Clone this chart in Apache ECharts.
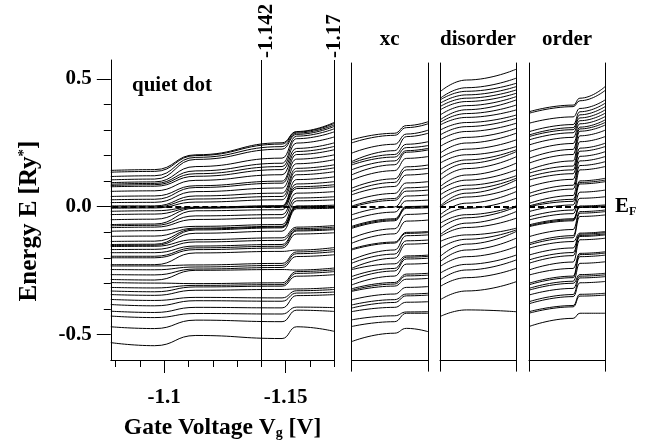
<!DOCTYPE html>
<html>
<head>
<meta charset="utf-8">
<script src="https://cdn.jsdelivr.net/npm/echarts@6/dist/echarts.min.js"></script>
<style>
  html, body { margin: 0; padding: 0; background: #fff; }
  #chart { width: 657px; height: 445px; }
</style>
</head>
<body>
<div id="chart"></div>
<script>
// ---- Kohn-Sham levels of the quiet dot vs gate voltage -------------------
// Each column holds the energy (Ry*) of every level at one gate-voltage knot.
const vgKnots = [-1.078, -1.096, -1.113, -1.1485, -1.1545, -1.17];
const mainE0 = [0.142, 0.135, 0.118, 0.105, 0.094, 0.088, 0.083, 0.078, 0.060, 0.040, 0.027, 0.016, 0.003, -0.002, -0.006, -0.018, -0.031, -0.051, -0.070, -0.075, -0.082, -0.096, -0.116, -0.136, -0.148, -0.152, -0.156, -0.168, -0.180, -0.194, -0.200, -0.227, -0.232, -0.246, -0.266, -0.285, -0.297, -0.316, -0.330, -0.344, -0.363, -0.383, -0.409, -0.428, -0.470, -0.532];
const mainE1 = [0.145, 0.138, 0.121, 0.108, 0.097, 0.091, 0.086, 0.080, 0.062, 0.042, 0.029, 0.017, 0.003, -0.001, -0.005, -0.016, -0.029, -0.049, -0.068, -0.073, -0.080, -0.094, -0.115, -0.135, -0.147, -0.151, -0.155, -0.167, -0.180, -0.194, -0.200, -0.227, -0.232, -0.247, -0.267, -0.287, -0.299, -0.318, -0.333, -0.347, -0.367, -0.388, -0.414, -0.434, -0.477, -0.544];
const mainE2 = [0.203, 0.200, 0.193, 0.185, 0.157, 0.140, 0.129, 0.119, 0.103, 0.082, 0.075, 0.059, 0.042, 0.030, 0.018, -0.002, -0.004, -0.006, -0.016, -0.036, -0.050, -0.077, -0.084, -0.087, -0.091, -0.104, -0.129, -0.138, -0.154, -0.161, -0.168, -0.181, -0.228, -0.236, -0.244, -0.249, -0.301, -0.308, -0.314, -0.327, -0.355, -0.368, -0.394, -0.418, -0.444, -0.504];
const mainE3 = [0.250, 0.245, 0.235, 0.225, 0.190, 0.170, 0.157, 0.145, 0.125, 0.100, 0.092, 0.073, 0.053, 0.040, 0.027, 0.004, 0.001, -0.002, -0.012, -0.031, -0.044, -0.070, -0.077, -0.080, -0.083, -0.096, -0.122, -0.132, -0.148, -0.155, -0.162, -0.175, -0.222, -0.230, -0.238, -0.246, -0.298, -0.305, -0.311, -0.324, -0.357, -0.370, -0.396, -0.420, -0.450, -0.516];
const mainE4 = [0.294, 0.292, 0.288, 0.283, 0.276, 0.266, 0.249, 0.228, 0.216, 0.204, 0.186, 0.168, 0.150, 0.139, 0.125, 0.106, 0.089, 0.078, 0.071, 0.053, 0.034, 0.023, 0.003, 0.000, -0.004, -0.008, -0.080, -0.086, -0.091, -0.095, -0.107, -0.170, -0.177, -0.184, -0.195, -0.248, -0.254, -0.261, -0.272, -0.322, -0.329, -0.338, -0.348, -0.393, -0.405, -0.470];
const mainE5 = [0.330, 0.326, 0.320, 0.314, 0.305, 0.293, 0.273, 0.250, 0.236, 0.223, 0.203, 0.184, 0.164, 0.152, 0.137, 0.117, 0.098, 0.086, 0.078, 0.059, 0.039, 0.027, 0.006, 0.002, -0.002, -0.006, -0.074, -0.080, -0.086, -0.090, -0.102, -0.160, -0.168, -0.176, -0.188, -0.240, -0.247, -0.254, -0.266, -0.316, -0.324, -0.334, -0.344, -0.395, -0.410, -0.488];

// ---- "xc" panel (sweep position 0..1) ------------------------------------
const xcKnots = [0, 0.56, 0.72, 1];
const xcE0 = [0.262, 0.250, 0.210, 0.177, 0.171, 0.164, 0.145, 0.125, 0.105, 0.073, 0.060, 0.047, 0.021, 0.003, -0.001, -0.031, -0.051, -0.076, -0.080, -0.084, -0.122, -0.142, -0.164, -0.168, -0.207, -0.220, -0.240, -0.245, -0.272, -0.285, -0.305, -0.320, -0.326, -0.330, -0.363, -0.383, -0.395, -0.409, -0.441, -0.467, -0.526];
const xcE1 = [0.288, 0.280, 0.245, 0.220, 0.205, 0.195, 0.180, 0.165, 0.142, 0.110, 0.096, 0.080, 0.053, 0.033, 0.026, 0.000, -0.020, -0.046, -0.050, -0.054, -0.085, -0.105, -0.137, -0.141, -0.168, -0.184, -0.200, -0.222, -0.240, -0.250, -0.270, -0.295, -0.301, -0.309, -0.340, -0.362, -0.373, -0.392, -0.425, -0.448, -0.493];
const xcE2 = [0.318, 0.310, 0.285, 0.275, 0.245, 0.232, 0.220, 0.214, 0.190, 0.157, 0.145, 0.125, 0.094, 0.075, 0.062, 0.043, 0.024, 0.002, -0.001, -0.005, -0.029, -0.055, -0.099, -0.103, -0.112, -0.132, -0.145, -0.191, -0.196, -0.203, -0.223, -0.262, -0.269, -0.282, -0.314, -0.340, -0.347, -0.372, -0.410, -0.415, -0.474];
const xcE3 = [0.333, 0.325, 0.300, 0.288, 0.255, 0.240, 0.229, 0.223, 0.197, 0.164, 0.151, 0.131, 0.099, 0.079, 0.066, 0.047, 0.027, 0.004, 0.001, -0.003, -0.025, -0.051, -0.096, -0.100, -0.109, -0.129, -0.142, -0.188, -0.193, -0.200, -0.220, -0.259, -0.266, -0.279, -0.311, -0.337, -0.344, -0.370, -0.409, -0.415, -0.487];

// ---- "disorder" panel ------------------------------------------------------
const disKnots = [0, 0.35, 1];
const disE0 = [0.450, 0.424, 0.418, 0.405, 0.392, 0.379, 0.359, 0.340, 0.330, 0.320, 0.300, 0.281, 0.262, 0.236, 0.210, 0.191, 0.171, 0.145, 0.125, 0.105, 0.079, 0.066, 0.047, 0.027, 0.003, -0.001, -0.031, -0.044, -0.064, -0.083, -0.109, -0.116, -0.135, -0.161, -0.194, -0.214, -0.233, -0.259, -0.285, -0.311, -0.363, -0.428];
const disE1 = [0.496, 0.466, 0.452, 0.438, 0.425, 0.412, 0.396, 0.380, 0.365, 0.350, 0.330, 0.314, 0.295, 0.272, 0.250, 0.226, 0.204, 0.184, 0.170, 0.150, 0.125, 0.105, 0.085, 0.070, 0.054, 0.039, 0.015, -0.005, -0.030, -0.042, -0.063, -0.080, -0.109, -0.126, -0.145, -0.168, -0.194, -0.224, -0.246, -0.276, -0.328, -0.402];
const disE2 = [0.538, 0.503, 0.483, 0.470, 0.457, 0.444, 0.431, 0.418, 0.398, 0.379, 0.359, 0.346, 0.327, 0.307, 0.288, 0.262, 0.236, 0.223, 0.216, 0.196, 0.171, 0.145, 0.122, 0.112, 0.105, 0.079, 0.060, 0.034, 0.004, 0.000, -0.018, -0.044, -0.083, -0.090, -0.096, -0.122, -0.155, -0.188, -0.207, -0.240, -0.292, -0.409];

// ---- "order" panel ---------------------------------------------------------
const ordKnots = [0, 0.58, 0.67, 1];
const ordE0 = [0.372, 0.366, 0.327, 0.294, 0.281, 0.275, 0.262, 0.242, 0.216, 0.190, 0.171, 0.145, 0.132, 0.118, 0.105, 0.079, 0.053, 0.040, 0.014, 0.004, 0.001, -0.018, -0.038, -0.051, -0.070, -0.074, -0.077, -0.116, -0.142, -0.148, -0.161, -0.188, -0.207, -0.220, -0.246, -0.266, -0.298, -0.304, -0.318, -0.325, -0.344, -0.370, -0.378, -0.409, -0.415, -0.467];
const ordE1 = [0.398, 0.392, 0.352, 0.322, 0.310, 0.302, 0.290, 0.272, 0.248, 0.225, 0.205, 0.180, 0.160, 0.145, 0.130, 0.108, 0.085, 0.070, 0.045, 0.030, 0.022, 0.008, -0.012, -0.026, -0.046, -0.050, -0.054, -0.088, -0.112, -0.120, -0.135, -0.160, -0.178, -0.190, -0.215, -0.240, -0.270, -0.276, -0.290, -0.298, -0.318, -0.342, -0.350, -0.385, -0.390, -0.435];
const ordE2 = [0.425, 0.415, 0.385, 0.372, 0.360, 0.348, 0.337, 0.325, 0.312, 0.305, 0.296, 0.278, 0.255, 0.230, 0.218, 0.198, 0.180, 0.162, 0.145, 0.102, 0.096, 0.090, 0.058, 0.034, 0.004, 0.001, -0.002, -0.018, -0.024, -0.037, -0.102, -0.106, -0.111, -0.115, -0.128, -0.181, -0.186, -0.194, -0.220, -0.264, -0.270, -0.277, -0.296, -0.341, -0.348, -0.415];
const ordE3 = [0.470, 0.455, 0.418, 0.405, 0.392, 0.379, 0.366, 0.353, 0.340, 0.330, 0.320, 0.300, 0.275, 0.249, 0.236, 0.216, 0.197, 0.177, 0.158, 0.112, 0.105, 0.099, 0.066, 0.040, 0.008, 0.004, 0.001, -0.012, -0.018, -0.031, -0.096, -0.100, -0.105, -0.109, -0.122, -0.175, -0.180, -0.188, -0.214, -0.259, -0.265, -0.272, -0.291, -0.337, -0.344, -0.415];

// ---- axes, ticks and annotations --------------------------------------------
const vgMajorTicks = [-1.1, -1.15];
const vgMinorTicks = [-1.08, -1.09, -1.11, -1.12, -1.13, -1.14, -1.16, -1.17];
const energyMajorTicks = [0.5, 0, -0.5];
const energyMinorTicks = [0.4, 0.3, 0.2, 0.1, -0.1, -0.2, -0.3, -0.4];
const markedVoltages = [-1.142, -1.17];
const fermiEnergy = 0;
const panelTitles = ['xc', 'disorder', 'order'];

const SERIF = "'Liberation Serif', 'DejaVu Serif', serif";
const INK = '#000';
const yMin = -0.6, yMaxMain = 0.574, yMaxSide = 0.5625;

const grids = [
  { left: 110.8, top: 60, width: 223.5, height: 300.6 },
  { left: 351.5, top: 63, width: 76.5, height: 297.6 },
  { left: 440, top: 63, width: 76, height: 297.6 },
  { left: 529, top: 63, width: 76, height: 297.6 }
];

const boldText = (size) => ({ fontFamily: SERIF, fontWeight: 'bold', fontSize: size, color: INK });

const xAxes = [
  { // main, major ticks + labels
    gridIndex: 0, type: 'value', min: -1.17, max: -1.078, inverse: true,
    axisLine: { show: true, onZero: false, lineStyle: { color: INK, width: 1 } },
    axisTick: { show: true, customValues: vgMajorTicks, length: 13, lineStyle: { color: INK, width: 1 } },
    axisLabel: { show: true, customValues: vgMajorTicks, margin: 27, formatter: v => String(v), ...boldText(21) },
    splitLine: { show: false },
    name: 'Gate Voltage V{sub|g} [V]', nameLocation: 'middle', nameGap: 56,
    nameTextStyle: { ...boldText(23.5), rich: { sub: { ...boldText(14), padding: [10, 0, 0, 0] } } }
  },
  { // main, minor ticks
    gridIndex: 0, type: 'value', min: -1.17, max: -1.078, inverse: true, position: 'bottom',
    axisLine: { show: false, onZero: false },
    axisTick: { show: true, customValues: vgMinorTicks, length: 7, lineStyle: { color: INK, width: 1 } },
    axisLabel: { show: false }, splitLine: { show: false }
  }
];
for (let g = 1; g <= 3; g++) {
  xAxes.push({
    gridIndex: g, type: 'value', min: 0, max: 1, position: 'bottom',
    axisLine: { show: true, onZero: false, lineStyle: { color: INK, width: 1 } },
    axisTick: { show: true, customValues: [0, 1], length: 11, lineStyle: { color: INK, width: 1 } },
    axisLabel: { show: false }, splitLine: { show: false }
  });
}

const yAxes = [
  {
    gridIndex: 0, type: 'value', min: yMin, max: yMaxMain, position: 'left',
    axisLine: { show: true, onZero: false, lineStyle: { color: INK, width: 1 } },
    axisTick: { show: true, customValues: energyMajorTicks, length: 14, lineStyle: { color: INK, width: 1 } },
    axisLabel: { show: true, customValues: energyMajorTicks, margin: 19, formatter: v => v.toFixed(1), ...boldText(21) },
    splitLine: { show: false },
    name: 'Energy E [Ry{sup|*}]', nameLocation: 'middle', nameRotate: 90, nameGap: 68,
    nameTextStyle: { ...boldText(25), padding: [0, 22, 0, 0], rich: { sup: { ...boldText(15), padding: [0, 0, 11, 0] } } }
  },
  {
    gridIndex: 0, type: 'value', min: yMin, max: yMaxMain, position: 'left',
    axisLine: { show: false, onZero: false },
    axisTick: { show: true, customValues: energyMinorTicks, length: 7, lineStyle: { color: INK, width: 1 } },
    axisLabel: { show: false }, splitLine: { show: false }
  }
];
for (let g = 1; g <= 3; g++) {
  ['left', 'right'].forEach(pos => yAxes.push({
    gridIndex: g, type: 'value', min: yMin, max: yMaxSide, position: pos,
    axisLine: { show: true, onZero: false, lineStyle: { color: INK, width: 1 } },
    axisTick: { show: false }, axisLabel: { show: false }, splitLine: { show: false }
  }));
}

// One line series per level, sampled at the panel's knots.
function levelSeries(knots, columns, xIndex, yIndex) {
  const out = [];
  for (let i = 0; i < columns[0].length; i++) {
    out.push({
      type: 'line', xAxisIndex: xIndex, yAxisIndex: yIndex, silent: true,
      data: knots.map((x, k) => [x, columns[k][i]]),
      smooth: 0.5, smoothMonotone: 'x', symbol: 'none', clip: false,
      lineStyle: { color: INK, width: 1 }, z: 2
    });
  }
  return out;
}

const fermiLine = { yAxis: fermiEnergy, lineStyle: { type: [6, 3], width: 2, color: INK } };

const mainLevels = levelSeries(vgKnots, [mainE0, mainE1, mainE2, mainE3, mainE4, mainE5], 0, 0);
const xcLevels = levelSeries(xcKnots, [xcE0, xcE1, xcE2, xcE3], 2, 2);
const disLevels = levelSeries(disKnots, [disE0, disE1, disE2], 3, 4);
const ordLevels = levelSeries(ordKnots, [ordE0, ordE1, ordE2, ordE3], 4, 6);

const markerBase = { silent: true, symbol: ['none', 'none'], animation: false, label: { show: false } };

mainLevels[0].markLine = {
  ...markerBase,
  lineStyle: { type: 'solid', color: INK, width: 1 },
  data: [...markedVoltages.map(v => ({ xAxis: v })), fermiLine]
};
xcLevels[0].markLine = { ...markerBase, data: [fermiLine] };
disLevels[0].markLine = { ...markerBase, data: [fermiLine] };
ordLevels[0].markLine = {
  ...markerBase,
  data: [fermiLine],
  label: {
    show: true, position: 'end', distance: 10, formatter: '{e|E}{f|F}',
    rich: { e: boldText(21), f: { ...boldText(12), padding: [9, 0, 0, 0] } }
  }
};

const titleFont = `bold 21px ${SERIF}`;
const graphics = [
  { id: 'quiet', type: 'text', x: 132, y: 86, style: { text: 'quiet dot', font: titleFont, fill: INK, align: 'left', verticalAlign: 'middle' } }
];
panelTitles.forEach((t, k) => {
  const g = grids[k + 1];
  graphics.push({ id: 'title' + k, type: 'text', x: g.left + g.width / 2, y: 40,
    style: { text: t, font: titleFont, fill: INK, align: 'center', verticalAlign: 'middle' } });
});

const chart = echarts.init(document.getElementById('chart'), null, { renderer: 'canvas' });
chart.setOption({
  animation: false,
  backgroundColor: '#fff',
  grid: grids,
  xAxis: xAxes,
  yAxis: yAxes,
  graphic: graphics,
  series: [...mainLevels, ...xcLevels, ...disLevels, ...ordLevels]
});

// Rotated voltage labels placed on top of the marked gate-voltage lines
const topY = chart.convertToPixel({ yAxisIndex: 0 }, yMaxMain);
markedVoltages.forEach((v, k) => {
  graphics.push({
    id: 'vg' + k, type: 'text',
    x: chart.convertToPixel({ xAxisIndex: 0 }, v), y: topY - 2,
    rotation: Math.PI / 2,
    style: { text: String(v), font: titleFont, fill: INK, align: 'left', verticalAlign: 'middle' }
  });
});
chart.setOption({ graphic: graphics });
</script>
</body>
</html>
